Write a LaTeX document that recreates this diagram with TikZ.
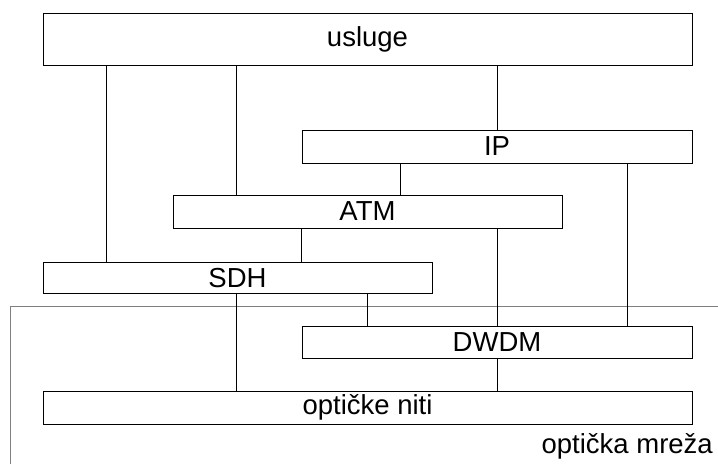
\documentclass[tikz,border=0pt]{standalone}
\usepackage{fontspec}
\setmainfont{Liberation Sans}
\usetikzlibrary{positioning}

\tikzset{
  layer/.style={draw, thick, rectangle, inner sep=0pt, font=\fontsize{27.5}{32}\selectfont},
  link/.style={semithick},
}

\begin{document}
\begin{tikzpicture}[x=1pt, y=-1pt]
  \useasboundingbox (0,0) rectangle (718,464);

  % the optical network boundary
  \draw[gray, semithick] (10,464) -- (10,306) -- (718,306);

  \node[layer, minimum width=649pt, minimum height=52pt] (usluge) at (367.5,39) {usluge};
  \node[layer, minimum width=390pt, minimum height=33pt] (ip)     at (497,146.5) {IP};
  \node[layer, minimum width=389pt, minimum height=33pt] (atm)    at (367.5,211.5) {ATM};
  \node[layer, minimum width=389pt, minimum height=31pt] (sdh)    at (237.5,278) {SDH};
  \node[layer, minimum width=390pt, minimum height=32pt] (dwdm)   at (497,342) {DWDM};
  \node[layer, minimum width=649pt, minimum height=33pt] (niti)   at (367.5,407.5) {optičke niti};

  \node[anchor=base east, inner sep=0pt, font=\fontsize{27.5}{32}\selectfont] (mreza) at (713,453) {optička mreža};

  \draw[link] ([xshift=64pt]usluge.south west) -- ([xshift=64pt]sdh.north west);
  \draw[link] ([xshift=194pt]usluge.south west) -- ([xshift=64pt]atm.north west);
  \draw[link] ([xshift=455pt]usluge.south west) -- ([xshift=196pt]ip.north west);
  \draw[link] ([xshift=99pt]ip.south west) -- ([xshift=228pt]atm.north west);
  \draw[link] ([xshift=326pt]ip.south west) -- ([xshift=326pt]dwdm.north west);
  \draw[link] ([xshift=129pt]atm.south west) -- ([xshift=259pt]sdh.north west);
  \draw[link] ([xshift=325pt]atm.south west) -- ([xshift=196pt]dwdm.north west);
  \draw[link] ([xshift=325pt]sdh.south west) -- ([xshift=66pt]dwdm.north west);
  \draw[link] ([xshift=194pt]sdh.south west) -- ([xshift=194pt]niti.north west);
  \draw[link] ([xshift=196pt]dwdm.south west) -- ([xshift=455pt]niti.north west);
\end{tikzpicture}
\end{document}
